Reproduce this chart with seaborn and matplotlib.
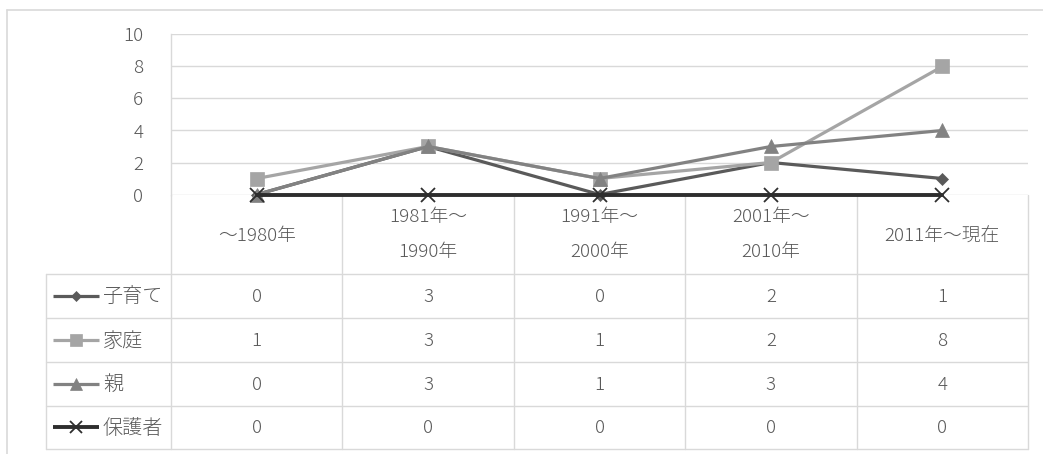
import numpy as np
import pandas as pd
import matplotlib
matplotlib.use("Agg")
import matplotlib.pyplot as plt
import seaborn as sns
from matplotlib.lines import Line2D

# ---------------- data ----------------
categories = ["～1980年", "1981年～\n1990年", "1991年～\n2000年", "2001年～\n2010年", "2011年～現在"]
series_names = ["子育て", "家庭", "親", "保護者"]
kosodate = [0, 3, 0, 2, 1]
katei = [1, 3, 1, 2, 8]
oya = [0, 3, 1, 3, 4]
hogosha = [0, 0, 0, 0, 0]
y_ticks = [0, 2, 4, 6, 8, 10]

series_values = [kosodate, katei, oya, hogosha]
colors = ["#5a5a5a", "#a5a5a5", "#828282", "#2e2e2e"]
markers = ["D", "s", "^", "x"]
msizes = [6.2, 10.5, 10.5, 9.5]
lws = [2.3, 2.3, 2.3, 2.8]

# ---------------- style ----------------
sns.set_style("white")
plt.rcParams["font.family"] = ["Noto Sans CJK JP", "DejaVu Sans"]
plt.rcParams["font.weight"] = "light"
TXT = "#595959"
GRID = "#d9d9d9"
FS = 13.5

W, H = 1043, 454
fig = plt.figure(figsize=(W / 100, H / 100), dpi=100)


def rect(x0, y0, x1, y1):
    return [x0 / W, 1 - y1 / H, (x1 - x0) / W, (y1 - y0) / H]


PL, PR, PT, PB = 171, 1028, 34.5, 194.5
LEG_L = 46.3
ROWS = [274, 318, 362, 405.7, 449]
colw = (PR - PL) / len(categories)

# outer chart frame (partially visible)
fig.add_artist(Line2D([7 / W, 7 / W], [0, 1 - 10 / H], color=GRID, lw=1.2, transform=fig.transFigure))
fig.add_artist(Line2D([7 / W, 1], [1 - 10 / H, 1 - 10 / H], color=GRID, lw=1.2, transform=fig.transFigure))

# ---------------- data table (drawn below the chart) ----------------
tab = fig.add_axes(rect(LEG_L, PB, PR, ROWS[-1]))
tab.set_zorder(1)
x_left = -0.5 - (PL - LEG_L) / colw
tab.set_xlim(x_left, len(categories) - 0.5)
tab.set_ylim(ROWS[-1], PB)
tab.axis("off")


def u(px):
    return -0.5 + (px - PL) / colw


lk = dict(color=GRID, lw=1, clip_on=False)
for r in ROWS:
    tab.plot([x_left, len(categories) - 0.5], [r, r], **lk)
tab.plot([x_left, x_left], [ROWS[0], ROWS[-1]], **lk)
for i in range(len(categories) + 1):
    tab.plot([i - 0.5, i - 0.5], [PB, ROWS[-1]], **lk)

hc = (PB + ROWS[0]) / 2 + 0.5
for i, cat in enumerate(categories):
    lines = cat.split("\n")
    if len(lines) == 1:
        tab.text(i, hc + 1.5, lines[0], ha="center", va="center", fontsize=FS, color=TXT)
    else:
        tab.text(i, hc - 17.5, lines[0], ha="center", va="center", fontsize=FS, color=TXT)
        tab.text(i, hc + 17.5, lines[1], ha="center", va="center", fontsize=FS, color=TXT)

for k, (name, vals, c, m, ms, lw) in enumerate(zip(series_names, series_values, colors, markers, msizes, lws)):
    yc = (ROWS[k] + ROWS[k + 1]) / 2
    tab.plot([u(53), u(99)], [yc, yc], color=c, lw=lw, solid_capstyle="butt", clip_on=False)
    tab.plot([u(76)], [yc], marker=m, markersize=ms * 0.85, color=c, markeredgecolor=c,
             markeredgewidth=1.3 if m == "x" else 0.5, clip_on=False)
    tab.text(u(103), yc + 1, name, ha="left", va="center", fontsize=FS + 1, color=TXT)
    for i, v in enumerate(vals):
        tab.text(i, yc + 1, str(v), ha="center", va="center", fontsize=FS, color=TXT)

# ---------------- main line chart ----------------
ax = fig.add_axes(rect(PL, PT, PR, PB))
ax.set_zorder(3)
ax.patch.set_visible(False)
pos = np.arange(len(categories))
for name, vals, c, m, ms, lw in zip(series_names, series_values, colors, markers, msizes, lws):
    df = pd.DataFrame({"x": pos, "y": vals})
    sns.lineplot(data=df, x="x", y="y", ax=ax, color=c, lw=lw, marker=m, markersize=ms,
                 markeredgecolor=c, markeredgewidth=1.3 if m == "x" else 0.5,
                 clip_on=False, zorder=3, legend=False)
ax.set_xlim(-0.5, len(categories) - 0.5)
ax.set_ylim(y_ticks[0], y_ticks[-1])
ax.set_yticks(y_ticks)
ax.set_yticklabels([str(t) for t in y_ticks], fontsize=FS, color=TXT)
ax.set_xticks([])
ax.set_xlabel("")
ax.set_ylabel("")
ax.tick_params(axis="y", length=0, pad=20)
ax.grid(axis="y", color=GRID, lw=1)
ax.set_axisbelow(True)
for s in ["top", "right", "bottom"]:
    ax.spines[s].set_visible(False)
ax.spines["left"].set_color(GRID)
ax.spines["left"].set_linewidth(1)

fig.savefig("out.png", dpi=100)
